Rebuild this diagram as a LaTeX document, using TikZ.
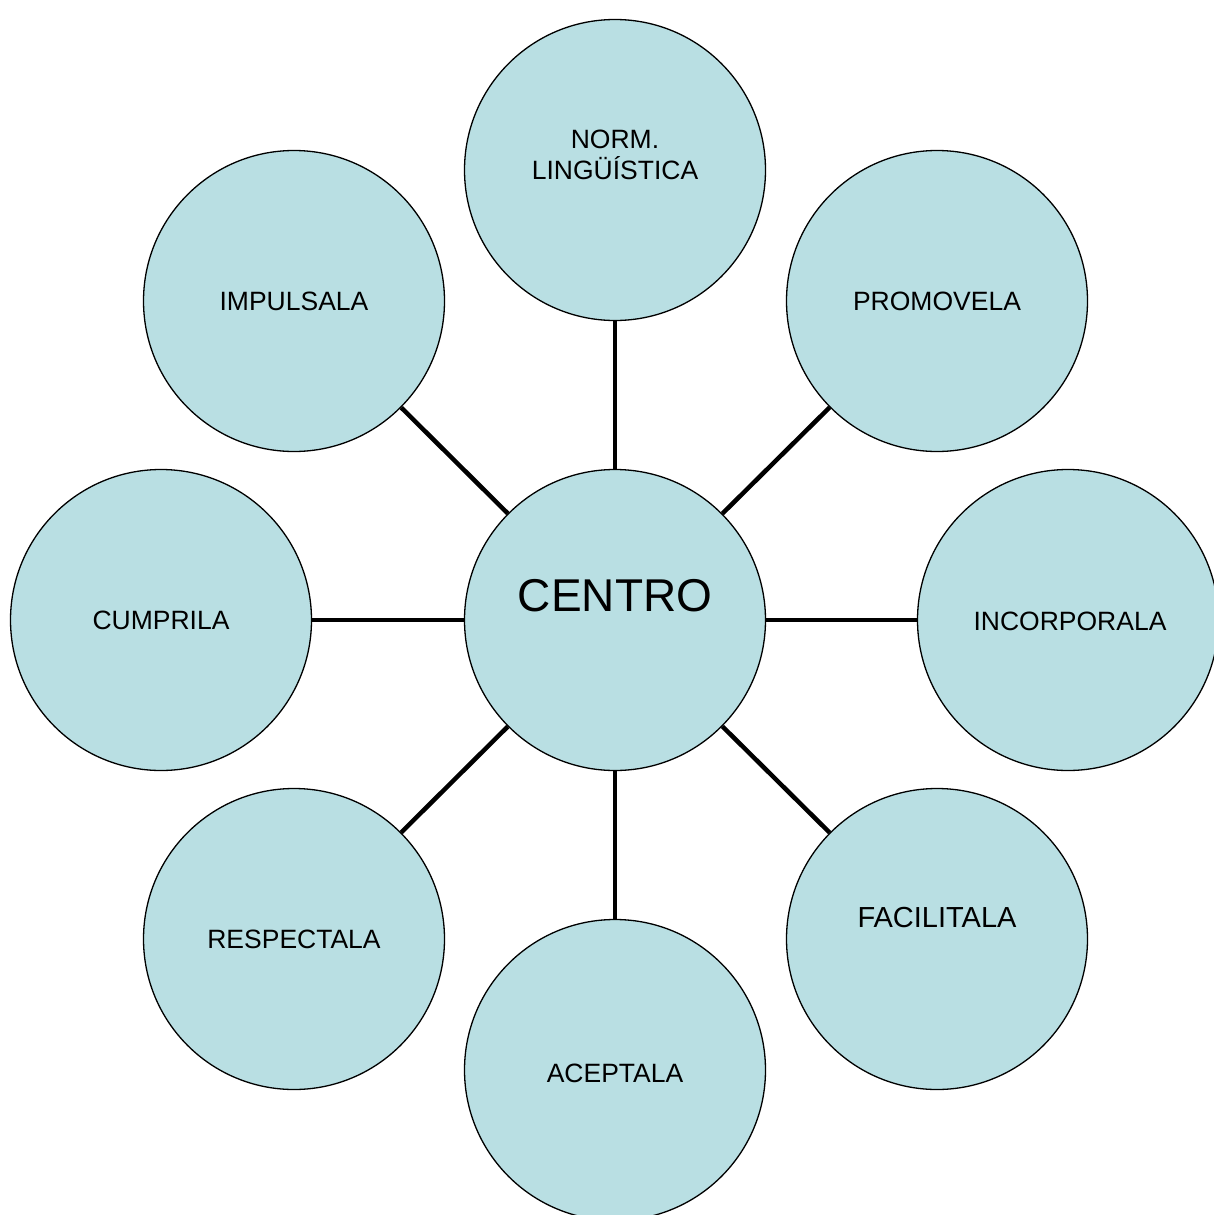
\documentclass[tikz,border=0pt]{standalone}
\usepackage{fontspec}
\setmainfont{Liberation Sans}
\definecolor{bub}{HTML}{B9DFE3}
\begin{document}
\begin{tikzpicture}[x=1pt,y=-1pt,
  bubble/.style={circle,draw=black,line width=1.3pt,fill=bub,minimum size=301pt,inner sep=0pt,align=center,font=\fontsize{26.5}{31}\selectfont},
  lbl/.style={align=center,inner sep=0pt,font=\fontsize{26.5}{31}\selectfont},
  conn/.style={line width=4.5pt,black}]
\useasboundingbox (0,0) rectangle (1213,1215);
\node[bubble] (c) at (615,620) {};
\node[lbl,font=\fontsize{46}{50}\selectfont] (ct) at (615,596) {CENTRO};
\node[bubble] (n) at (615,170) {};
\node[lbl] (nt) at (615,155) {NORM.\\LINGÜÍSTICA};
\node[bubble] (pr) at (937,301) {PROMOVELA};
\node[bubble] (im) at (294,301) {IMPULSALA};
\node[bubble] (in) at (1068,620) {};
\node[lbl] (it) at (1070,621) {INCORPORALA};
\node[bubble] (cu) at (161,620) {CUMPRILA};
\node[bubble] (re) at (294,939) {RESPECTALA};
\node[bubble] (fa) at (937,939) {};
\node[lbl,font=\fontsize{29}{33}\selectfont] (ft) at (937,918) {FACILITALA};
\node[bubble] (ac) at (615,1070) {};
\node[lbl] (at) at (615,1073) {ACEPTALA};
\foreach \t in {n,pr,im,in,cu,re,fa,ac}
  \draw[conn] (c) -- (\t);
\end{tikzpicture}
\end{document}
